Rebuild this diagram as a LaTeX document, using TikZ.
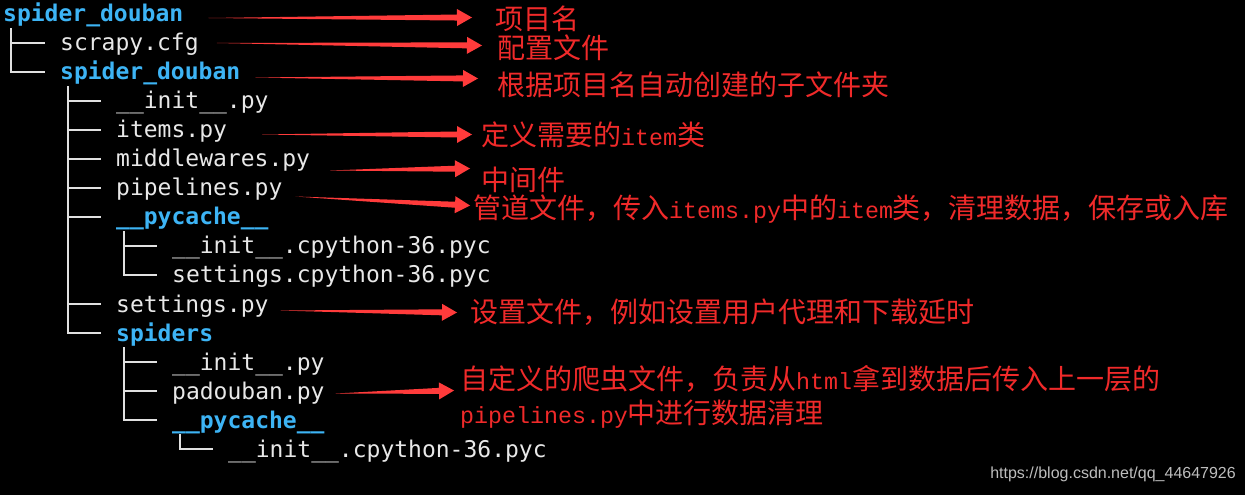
\documentclass[tikz,border=0pt]{standalone}
\usepackage{fontspec}
\setmonofont{DejaVu Sans Mono}
\setsansfont{Liberation Sans}
\newfontfamily\cjk{Noto Sans CJK SC}
\newfontfamily\latfont{Liberation Mono}
\usetikzlibrary{calc}

\definecolor{filegray}{HTML}{E8E8E8}
\definecolor{dirblue}{HTML}{3DB4F5}
\definecolor{linegray}{HTML}{E0E0E0}
\definecolor{arrowred}{HTML}{FF3B3B}
\definecolor{notered}{HTML}{F02A2A}
\definecolor{wmgray}{HTML}{BDBDBD}

\newcommand{\treefont}{\ttfamily\fontsize{23}{28}\selectfont}
\newcommand{\notefont}{\cjk\fontsize{28}{34}\selectfont}
\newcommand{\latpart}[1]{{\latfont\fontsize{23.3}{34}\selectfont #1}}

% tapered red arrow: #1 tail, #2 tip
\newcommand{\taperarrow}[2]{%
  \coordinate (tl) at (#1);
  \coordinate (tp) at (#2);
  \coordinate (hb) at ($(tp)!15pt!(tl)$);
  \fill[arrowred] (tl) -- ($(hb)!3pt!90:(tp)$) -- ($(hb)!8.5pt!90:(tp)$) -- (tp)
    -- ($(hb)!8.5pt!-90:(tp)$) -- ($(hb)!3pt!-90:(tp)$) -- cycle;}

\begin{document}
\begin{tikzpicture}[
  x=1pt, y=-1pt,
  file/.style = {anchor=base west, inner sep=0pt, text height=22pt, text depth=6pt, text=filegray, font=\treefont},
  dir/.style = {file, text=dirblue, font=\treefont\bfseries},
  note/.style = {anchor=west, inner sep=0pt, text=notered, font=\notefont, align=left},
  tree/.style = {draw=linegray, line width=1.4pt}
]

  % Background
  \fill[black] (0,0) rectangle (1245,494);

  % Tree
  \node[dir] (root) at (3,21.5) {spider\_douban};
  \node[file] (cfg) at (60,50.5) {scrapy.cfg};
  \node[dir] (pkg) at (60,79.5) {spider\_douban};
  \node[file] (init) at (116,108.5) {\_\_init\_\_.py};
  \node[file] (items) at (116,137.5) {items.py};
  \node[file] (mid) at (116,166.5) {middlewares.py};
  \node[file] (pipe) at (116,195.5) {pipelines.py};
  \node[dir] (cache) at (116,224.5) {\_\_pycache\_\_};
  \node[file] (cinit) at (172,253.5) {\_\_init\_\_.cpython-36.pyc};
  \node[file] (cset) at (172,282.5) {settings.cpython-36.pyc};
  \node[file] (settings) at (116,311.5) {settings.py};
  \node[dir] (spiders) at (116,340.5) {spiders};
  \node[file] (sinit) at (172,369.5) {\_\_init\_\_.py};
  \node[file] (padou) at (172,398.5) {padouban.py};
  \node[dir] (scache) at (172,427.5) {\_\_pycache\_\_};
  \node[file] (scinit) at (228,456.5) {\_\_init\_\_.cpython-36.pyc};

  % Branches
  \foreach \c in {cfg,pkg}
    \draw[tree] ([xshift=8pt]root.south west) |- ([xshift=-15pt]\c.west);
  \foreach \c in {init,items,mid,pipe,cache,settings,spiders}
    \draw[tree] ([xshift=8pt]pkg.south west) |- ([xshift=-15pt]\c.west);
  \foreach \c in {cinit,cset}
    \draw[tree] ([xshift=8pt]cache.south west) |- ([xshift=-15pt]\c.west);
  \foreach \c in {sinit,padou,scache}
    \draw[tree] ([xshift=8pt]spiders.south west) |- ([xshift=-15pt]\c.west);
  \draw[tree] ([xshift=8pt]scache.south west) |- ([xshift=-15pt]scinit.west);

  % Notes
  \node[note] (n1) at (495,18) {项目名};
  \node[note] (n2) at (497,47) {配置文件};
  \node[note] (n3) at (497,84) {根据项目名自动创建的子文件夹};
  \node[note] (n4) at (481,134) {定义需要的\latpart{item}类};
  \node[note] (n5) at (481,179) {中间件};
  \node[note] (n6) at (473,209) {管道文件，传入\latpart{items.py}中的\latpart{item}类，清理数据，保存或入库};
  \node[note] (n7) at (470,312) {设置文件，例如设置用户代理和下载延时};
  \node[note] (n8) at (460,396) {自定义的爬虫文件，负责从\latpart{html}拿到数据后传入上一层的\\\latpart{pipelines.py}中进行数据清理};

  % Arrows
  \taperarrow{[xshift=25pt,yshift=-4pt]root.east}{[xshift=-23pt,yshift=1pt]n1.west}
  \taperarrow{[xshift=18pt]cfg.east}{[xshift=-15pt,yshift=2pt]n2.west}
  \taperarrow{[xshift=15pt,yshift=-5.5pt]pkg.east}{[xshift=-19pt,yshift=6pt]n3.west}
  \taperarrow{[xshift=35pt,yshift=-4.5pt]items.east}{[xshift=-9pt]n4.west}
  \taperarrow{[xshift=20pt,yshift=-11.5pt]mid.east}{[xshift=-11pt,yshift=11pt]n5.west}
  \taperarrow{[xshift=13pt,yshift=-8.5pt]pipe.east}{[xshift=-3pt,yshift=4pt]n6.west}
  \taperarrow{[xshift=12pt,yshift=-6.5pt]settings.east}{[xshift=-13pt]n7.west}
  \taperarrow{[xshift=11pt,yshift=-2.5pt]padou.east}{[xshift=-6pt,yshift=6pt]n8.west}

  % Watermark
  \node[anchor=east, inner sep=0pt, text=wmgray, font=\sffamily\fontsize{16}{16}\selectfont] (url) at (1236,474) {https://blog.csdn.net/qq\_44647926};

\end{tikzpicture}
\end{document}
